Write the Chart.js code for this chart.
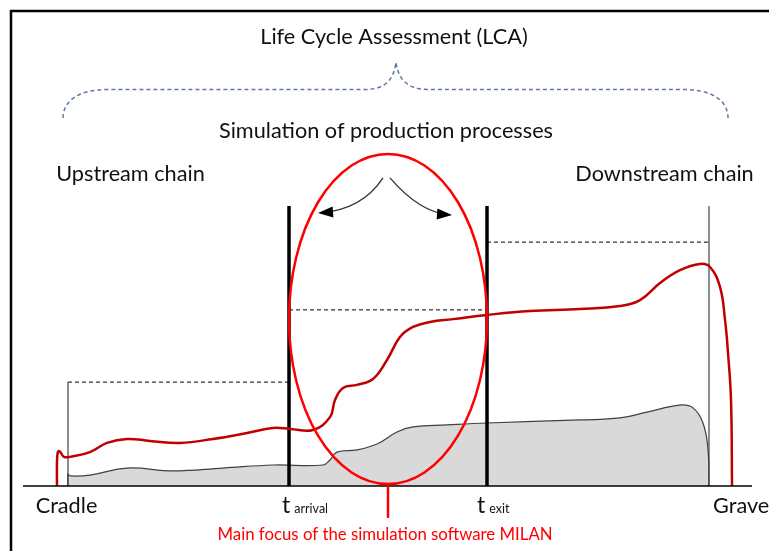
<!DOCTYPE html>
<html>
<head>
<meta charset="utf-8">
<script src="https://cdn.jsdelivr.net/npm/chart.js@4"></script>
<style>
  body { margin: 0; background: #fff; }
  canvas { display: block; }
</style>
</head>
<body>
<canvas id="lcaChart" width="769" height="551"></canvas>
<script>
// x = life cycle time (0..100 along the baseline), y = impact level (0..100)
const stageX = [6.17, 36.49, 63.65, 94.1];   // cradle, t arrival, t exit, grave
const stageLabels = ['Cradle', 'arrival', 'exit', 'Grave'];
const stageLevels = [37.1, 62.9, 87.1];       // dashed level of each phase

// red curve (cumulated impact)
const impactX = [4.66, 4.66, 4.75, 4.94, 5.21, 5.62, 6.45, 9.19, 11.52, 14.27, 17.42, 21.54, 26.06, 30.73, 34.29, 36.63,
  39.78, 42.11, 42.8, 43.9, 45.82, 48.01, 49.93, 51.71, 53.5, 55.83, 58.98, 63.65, 69.55, 76.41, 81.89, 84.64, 87.38,
  90.12, 92.87, 94.24, 95.61, 96.3, 96.71, 97.12, 97.26];
const impactY = [0, 8, 11.8, 12.5, 11.8, 10.4, 10.4, 12.1, 15.4, 16.8, 16.1, 15.4, 16.8, 18.9, 20.7, 20.4,
  20.0, 24.6, 30.7, 35.0, 36.1, 38.2, 45.0, 53.2, 56.8, 58.6, 59.6, 61.1, 62.5, 63.2, 64.3, 66.4, 72.5,
  77.1, 79.3, 78.2, 71.1, 59.3, 47.5, 30.7, 0];

// grey area (product flow)
const flowX = [6.17, 6.17, 6.45, 9.19, 14.27, 20.58, 27.43, 34.29, 41.15, 42.11, 43.07, 45.82, 48.56, 51.3, 53.5,
  58.16, 63.65, 76.41, 81.89, 85.6, 90.12, 91.91, 93.28, 93.97, 94.1];
const flowY = [0, 4.3, 3.6, 3.9, 6.4, 5.4, 6.4, 7.5, 7.5, 9.3, 12.1, 12.9, 15.0, 19.3, 21.1,
  21.8, 22.5, 23.6, 24.3, 26.4, 28.9, 27.9, 22.5, 12.9, 0];

const texts = {
  lca: 'Life Cycle Assessment (LCA)',
  sim: 'Simulation of production processes',
  up: 'Upstream chain',
  down: 'Downstream chain',
  focus: 'Main focus of the simulation software MILAN'
};

const pts = (xs, ys) => xs.map((x, i) => ({ x: x, y: ys[i] }));
const seg = (x0, y0, x1, y1) => [{ x: x0, y: y0 }, { x: x1, y: y1 }];

const lineStyle = (data, color, width, extra) => Object.assign({
  data: data, showLine: true, borderColor: color, borderWidth: width,
  pointRadius: 0, fill: false, clip: false, tension: 0
}, extra || {});

const datasets = [
  lineStyle(pts(impactX, impactY), '#c00000', 2.5, { tension: 0.42, order: 0 }),
  lineStyle(seg(stageX[1], 0, stageX[1], 100), '#000', 3.5, { order: 1 }),
  lineStyle(seg(stageX[2], 0, stageX[2], 100), '#000', 3.5, { order: 1 }),
  lineStyle(seg(stageX[0], 0, stageX[0], stageLevels[0]), '#404040', 1.2, { order: 2 }),
  lineStyle(seg(stageX[3], 0, stageX[3], 100), '#404040', 1.2, { order: 2 }),
  lineStyle(seg(stageX[0], stageLevels[0], stageX[1], stageLevels[0]), '#000', 1, { borderDash: [4, 3], order: 2 }),
  lineStyle(seg(stageX[1], stageLevels[1], stageX[2], stageLevels[1]), '#000', 1, { borderDash: [4, 3], order: 2 }),
  lineStyle(seg(stageX[2], stageLevels[2], stageX[3], stageLevels[2]), '#000', 1, { borderDash: [4, 3], order: 2 }),
  lineStyle(pts(flowX, flowY), '#404040', 1.2, { tension: 0.42, fill: 'origin', backgroundColor: '#d9d9d9', order: 5 })
];

function arrow(ctx, x0, y0, cx, cy, x1, y1) {
  ctx.beginPath();
  ctx.moveTo(x0, y0);
  ctx.quadraticCurveTo(cx, cy, x1, y1);
  ctx.stroke();
  const a = Math.atan2(y1 - cy, x1 - cx);
  const len = 13, half = 5.5;
  ctx.beginPath();
  ctx.moveTo(x1 + 2 * Math.cos(a), y1 + 2 * Math.sin(a));
  ctx.lineTo(x1 - len * Math.cos(a) - half * Math.sin(a), y1 - len * Math.sin(a) + half * Math.cos(a));
  ctx.lineTo(x1 - len * Math.cos(a) + half * Math.sin(a), y1 - len * Math.sin(a) - half * Math.cos(a));
  ctx.closePath();
  ctx.fill();
}

const decor = {
  id: 'decor',
  beforeDraw(chart) {
    const ctx = chart.ctx;
    ctx.save();
    ctx.fillStyle = '#fff';
    ctx.fillRect(0, 0, chart.width, chart.height);
    // frame (top + left)
    ctx.strokeStyle = '#000';
    ctx.lineWidth = 2.5;
    ctx.beginPath();
    ctx.moveTo(11, chart.height);
    ctx.lineTo(11, 11);
    ctx.lineTo(chart.width, 11);
    ctx.stroke();
    ctx.restore();
  },
  afterDatasetsDraw(chart) {
    const ctx = chart.ctx, area = chart.chartArea;
    const X = v => chart.scales.x.getPixelForValue(v);
    const Y = v => chart.scales.y.getPixelForValue(v);
    ctx.save();

    // baseline
    ctx.strokeStyle = '#000';
    ctx.lineWidth = 1.5;
    ctx.beginPath();
    ctx.moveTo(area.left, Y(0));
    ctx.lineTo(area.right, Y(0));
    ctx.stroke();

    // focus ellipse between t arrival and t exit
    const cx = (X(stageX[1]) + X(stageX[2])) / 2;
    const rx = (X(stageX[2]) - X(stageX[1])) / 2;
    const top = Y(118.6), bottom = Y(0.7);
    ctx.strokeStyle = '#ff0000';
    ctx.lineWidth = 2.5;
    ctx.beginPath();
    ctx.ellipse(cx, (top + bottom) / 2, rx, (bottom - top) / 2, 0, 0, Math.PI * 2);
    ctx.stroke();
    ctx.beginPath();
    ctx.moveTo(cx, bottom);
    ctx.lineTo(cx, Y(-11.4));
    ctx.stroke();

    // arrows inside the ellipse
    ctx.strokeStyle = '#333';
    ctx.fillStyle = '#000';
    ctx.lineWidth = 1.3;
    arrow(ctx, cx - 5, top + 24, cx - 26, top + 56, cx - 68, top + 59);
    arrow(ctx, cx + 2, top + 24, cx + 32, top + 59, cx + 62, top + 61);

    // dashed curly brace over the whole life cycle
    const bl = X(5.49), br = X(96.71), bp = X(51.17);
    const yEnd = Y(131.4), yBar = Y(141.6), yPeak = Y(151.4);
    ctx.strokeStyle = '#5b79a3';
    ctx.lineWidth = 1.5;
    ctx.setLineDash([4, 3]);
    ctx.beginPath();
    ctx.moveTo(bl, yEnd);
    ctx.bezierCurveTo(bl, yEnd - 18, bl + 17, yBar, bl + 44, yBar);
    ctx.lineTo(bp - 31, yBar);
    ctx.bezierCurveTo(bp - 11, yBar, bp - 2, yBar - 10, bp, yPeak);
    ctx.bezierCurveTo(bp + 2, yBar - 10, bp + 12, yBar, bp + 32, yBar);
    ctx.lineTo(br - 44, yBar);
    ctx.bezierCurveTo(br - 17, yBar, br, yEnd - 18, br, yEnd);
    ctx.stroke();
    ctx.setLineDash([]);

    // texts
    const font = '"Lato", "Open Sans", sans-serif';
    ctx.fillStyle = '#111';
    ctx.textBaseline = 'middle';
    ctx.textAlign = 'center';
    ctx.font = '21.7px ' + font;
    ctx.fillText(texts.lca, X(50.89), Y(160.4));
    ctx.fillText(texts.sim, X(49.79), Y(126.8));
    ctx.fillText(texts.up, X(14.75), Y(111.4));
    ctx.fillText(texts.down, X(88.0), Y(111.4));
    ctx.fillText(stageLabels[0], X(5.97), Y(-7.1));

    ctx.textAlign = 'left';
    ctx.textBaseline = 'alphabetic';
    const base = Y(-7.1) + 7;
    [[stageLabels[1], 35.53], [stageLabels[2], 62.28]].forEach(([sub, xv]) => {
      ctx.font = '23px ' + font;
      ctx.fillText('t', X(xv), base);
      const w = ctx.measureText('t').width + 4;
      ctx.font = '12.5px ' + font;
      ctx.fillText(sub, X(xv) + w, base);
    });
    ctx.font = '21.7px ' + font;
    ctx.fillText(stageLabels[3], X(94.65), base);

    ctx.fillStyle = '#ff0000';
    ctx.textAlign = 'center';
    ctx.textBaseline = 'middle';
    ctx.font = '16.8px ' + font;
    ctx.fillText(texts.focus, X(49.66), Y(-17.5));
    ctx.restore();
  }
};

new Chart(document.getElementById('lcaChart').getContext('2d'), {
  type: 'scatter',
  data: { datasets: datasets },
  options: {
    responsive: false,
    animation: false,
    layout: { padding: { left: 23, right: 17, top: 206, bottom: 65 } },
    scales: {
      x: { type: 'linear', min: 0, max: 100, display: false },
      y: { min: 0, max: 100, display: false }
    },
    plugins: { legend: { display: false }, tooltip: { enabled: false } }
  },
  plugins: [decor]
});
</script>
</body>
</html>
